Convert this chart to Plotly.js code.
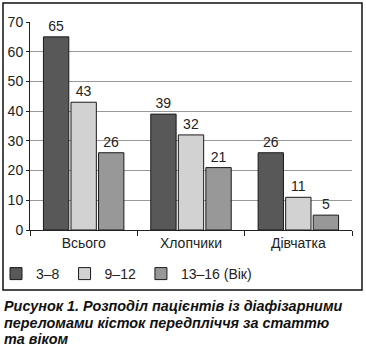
<!DOCTYPE html>
<html>
<head>
<meta charset="utf-8">
<script src="https://cdn.plot.ly/plotly-3.0.1.min.js"></script>
<style>
html,body{margin:0;padding:0;background:#fff;}
#chart{width:366px;height:354px;}
</style>
</head>
<body>
<div id="chart"></div>
<script>
const categories = ["Всього", "Хлопчики", "Дівчатка"];
const seriesNames = ["3–8", "9–12", "13–16 (Вік)"];
const age3to8 = [65, 39, 26];
const age9to12 = [43, 32, 11];
const age13to16 = [26, 21, 5];
const seriesColors = ["#585858", "#d2d2d2", "#989898"];
const captionLines = [
  "Рисунок 1. Розподіл пацієнтів із діафізарними",
  "переломами кісток передпліччя за статтю",
  "та віком"
];

const font = "'Liberation Sans', Arial, sans-serif";
const values = [age3to8, age9to12, age13to16];
const traces = values.map((v, i) => ({
  type: "bar",
  name: seriesNames[i],
  x: categories,
  y: v,
  text: v.map(String),
  textposition: "outside",
  cliponaxis: false,
  textfont: {family: font, size: 14, color: "#222"},
  marker: {color: seriesColors[i], line: {color: "#1a1a1a", width: 1}}
}));

const L = 30, R = 352, T = 22, B = 230;
const W = 366, H = 354;
const px = x => (x - L) / (R - L);
const py = y => (B - y) / (B - T);

const captionY = [306, 322.5, 339];
const annotations = captionLines.map((t, i) => ({
  xref: "paper", yref: "paper", x: px(2), y: py(captionY[i]),
  xanchor: "left", yanchor: "middle", align: "left", showarrow: false,
  text: "<b><i>" + t + "</i></b>",
  font: {family: font, size: 14.4, color: "#111"}
}));

const layout = {
  width: W, height: H,
  margin: {l: L, r: W - R, t: T, b: H - B, pad: 0, autoexpand: false},
  paper_bgcolor: "#fff", plot_bgcolor: "#fff",
  barmode: "group", bargap: 0.23, bargroupgap: 0.08,
  font: {family: font, size: 14, color: "#222"},
  showlegend: true,
  legend: {
    orientation: "h", x: px(-4), y: py(258), xanchor: "left", yanchor: "top",
    font: {family: font, size: 14, color: "#222"},
    itemwidth: 30, tracegroupgap: 0, bgcolor: "rgba(0,0,0,0)"
  },
  xaxis: {
    type: "category", tickson: "boundaries", ticks: "outside", ticklen: 5,
    tickcolor: "#222", showline: true, linecolor: "#222", linewidth: 1,
    tickfont: {family: font, size: 14, color: "#222"}, showgrid: false,
    automargin: false, fixedrange: true
  },
  yaxis: {
    range: [0, 70], dtick: 10, ticks: "outside", ticklen: 3, tickcolor: "#222",
    showline: true, linecolor: "#222", linewidth: 1,
    showgrid: true, gridcolor: "#999", gridwidth: 1, zeroline: false,
    tickfont: {family: font, size: 14, color: "#222"},
    automargin: false, fixedrange: true
  },
  shapes: [{
    type: "rect", xref: "paper", yref: "paper",
    x0: px(3), x1: px(362), y0: py(290), y1: py(3),
    line: {color: "#111", width: 1.5}, fillcolor: "rgba(0,0,0,0)", layer: "below"
  }],
  annotations: annotations
};

Plotly.newPlot("chart", traces, layout, {displayModeBar: false, staticPlot: true});
</script>
</body>
</html>
